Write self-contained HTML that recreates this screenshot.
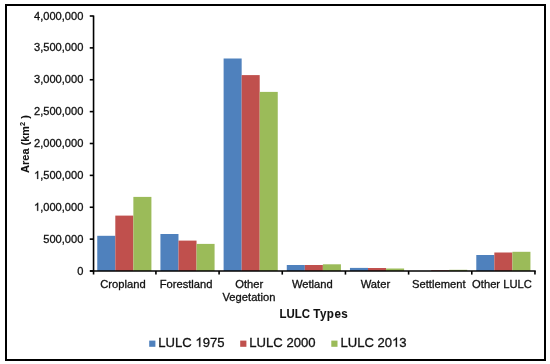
<!DOCTYPE html>
<html><head><meta charset="utf-8"><style>
html,body{margin:0;padding:0;background:#fff;}
svg{display:block;will-change:transform;}
text{font-family:"Liberation Sans", sans-serif;fill:#111;stroke:#111;stroke-width:0.3px;}
text[font-weight]{stroke-width:0.08px;}
.g1{fill:#111;stroke:#111;stroke-width:0.3px;vector-effect:non-scaling-stroke;}
</style></head><body>
<svg width="550" height="364" viewBox="0 0 550 364">
<rect x="6" y="5" width="539" height="355" fill="#fff" stroke="#000" stroke-width="2"/>
<rect x="97.26" y="235.80" width="18.05" height="35.20" fill="#4F81BD"/>
<rect x="115.31" y="215.60" width="18.05" height="55.40" fill="#C0504D"/>
<rect x="133.36" y="196.90" width="18.05" height="74.10" fill="#9BBB59"/>
<rect x="160.43" y="234.00" width="18.05" height="37.00" fill="#4F81BD"/>
<rect x="178.48" y="240.60" width="18.05" height="30.40" fill="#C0504D"/>
<rect x="196.53" y="243.90" width="18.05" height="27.10" fill="#9BBB59"/>
<rect x="223.61" y="58.50" width="18.05" height="212.50" fill="#4F81BD"/>
<rect x="241.65" y="75.10" width="18.05" height="195.90" fill="#C0504D"/>
<rect x="259.70" y="91.90" width="18.05" height="179.10" fill="#9BBB59"/>
<rect x="286.78" y="265.00" width="18.05" height="6.00" fill="#4F81BD"/>
<rect x="304.83" y="265.00" width="18.05" height="6.00" fill="#C0504D"/>
<rect x="322.87" y="264.30" width="18.05" height="6.70" fill="#9BBB59"/>
<rect x="349.95" y="267.90" width="18.05" height="3.10" fill="#4F81BD"/>
<rect x="368.00" y="268.00" width="18.05" height="3.00" fill="#C0504D"/>
<rect x="386.05" y="268.50" width="18.05" height="2.50" fill="#9BBB59"/>
<rect x="413.12" y="271.00" width="18.05" height="0.00" fill="#4F81BD"/>
<rect x="431.17" y="270.30" width="18.05" height="0.70" fill="#C0504D"/>
<rect x="449.22" y="269.80" width="18.05" height="1.20" fill="#9BBB59"/>
<rect x="476.29" y="255.00" width="18.05" height="16.00" fill="#4F81BD"/>
<rect x="494.34" y="252.50" width="18.05" height="18.50" fill="#C0504D"/>
<rect x="512.39" y="251.80" width="18.05" height="19.20" fill="#9BBB59"/>
<line x1="93.55" y1="15.4" x2="93.55" y2="274.6" stroke="#000" stroke-width="1.6"/>
<line x1="89.95" y1="271.0" x2="535.75" y2="271.0" stroke="#000" stroke-width="1.6"/>
<line x1="89.75" y1="271.00" x2="93.55" y2="271.00" stroke="#000" stroke-width="1.6"/>
<text transform="translate(77.23,274.50) scale(1,1.041)" font-size="11.1">0</text>
<line x1="89.75" y1="239.12" x2="93.55" y2="239.12" stroke="#000" stroke-width="1.6"/>
<text transform="translate(43.28,242.62) scale(1,1.041)" font-size="11.1">500,000</text>
<line x1="89.75" y1="207.25" x2="93.55" y2="207.25" stroke="#000" stroke-width="1.6"/>
<text transform="translate(34.02,210.75) scale(1,1.041)" font-size="11.1"> ,000,000</text>
<path class="g1" d="M763 0L583 0L583 1147Q518 1085 412.5 1023Q307 961 223 930L223 1104Q374 1175 486.5 1276Q599 1377 647 1472L763 1472Z" transform="translate(34.02,210.75) scale(0.00542,-0.00540)"/>
<line x1="89.75" y1="175.38" x2="93.55" y2="175.38" stroke="#000" stroke-width="1.6"/>
<text transform="translate(34.02,178.88) scale(1,1.041)" font-size="11.1"> ,500,000</text>
<path class="g1" d="M763 0L583 0L583 1147Q518 1085 412.5 1023Q307 961 223 930L223 1104Q374 1175 486.5 1276Q599 1377 647 1472L763 1472Z" transform="translate(34.02,178.88) scale(0.00542,-0.00540)"/>
<line x1="89.75" y1="143.50" x2="93.55" y2="143.50" stroke="#000" stroke-width="1.6"/>
<text transform="translate(34.02,147.00) scale(1,1.041)" font-size="11.1">2,000,000</text>
<line x1="89.75" y1="111.62" x2="93.55" y2="111.62" stroke="#000" stroke-width="1.6"/>
<text transform="translate(34.02,115.12) scale(1,1.041)" font-size="11.1">2,500,000</text>
<line x1="89.75" y1="79.75" x2="93.55" y2="79.75" stroke="#000" stroke-width="1.6"/>
<text transform="translate(34.02,83.25) scale(1,1.041)" font-size="11.1">3,000,000</text>
<line x1="89.75" y1="47.88" x2="93.55" y2="47.88" stroke="#000" stroke-width="1.6"/>
<text transform="translate(34.02,51.38) scale(1,1.041)" font-size="11.1">3,500,000</text>
<line x1="89.75" y1="16.00" x2="93.55" y2="16.00" stroke="#000" stroke-width="1.6"/>
<text transform="translate(34.02,19.50) scale(1,1.041)" font-size="11.1">4,000,000</text>
<line x1="155.92" y1="271.0" x2="155.92" y2="274.6" stroke="#000" stroke-width="1.6"/>
<line x1="219.09" y1="271.0" x2="219.09" y2="274.6" stroke="#000" stroke-width="1.6"/>
<line x1="282.26" y1="271.0" x2="282.26" y2="274.6" stroke="#000" stroke-width="1.6"/>
<line x1="345.44" y1="271.0" x2="345.44" y2="274.6" stroke="#000" stroke-width="1.6"/>
<line x1="408.61" y1="271.0" x2="408.61" y2="274.6" stroke="#000" stroke-width="1.6"/>
<line x1="471.78" y1="271.0" x2="471.78" y2="274.6" stroke="#000" stroke-width="1.6"/>
<line x1="534.95" y1="271.0" x2="534.95" y2="274.6" stroke="#000" stroke-width="1.6"/>
<text transform="translate(100.21,287.90) scale(1,1.041)" font-size="11.2">Cropland</text>
<text transform="translate(159.65,287.90) scale(1,1.041)" font-size="11.2">Forestland</text>
<text transform="translate(235.27,287.90) scale(1,1.041)" font-size="11.2">Other</text>
<text transform="translate(222.50,300.80) scale(1,1.041)" font-size="11.2">Vegetation</text>
<text transform="translate(291.91,287.90) scale(1,1.041)" font-size="11.2">Wetland</text>
<text transform="translate(360.69,287.90) scale(1,1.041)" font-size="11.2">Water</text>
<text transform="translate(412.02,287.90) scale(1,1.041)" font-size="11.2">Settlement</text>
<text transform="translate(472.09,287.90) scale(1,1.041)" font-size="11.2">Other LULC</text>
<text transform="translate(279.6,318.2) scale(1,1.041)" font-size="11.4" font-weight="bold">LULC</text>
<text transform="translate(313.3,318.2) scale(1,1.041)" font-size="11.6" font-weight="bold" letter-spacing="0.45">Types</text>
<text transform="translate(29.3,144) rotate(-90) scale(1,1.041)" text-anchor="middle" font-size="11" font-weight="bold">Area (km<tspan font-size="7.3" dy="-4">2</tspan><tspan dy="4"> )</tspan></text>
<rect x="149.2" y="340.6" width="6.2" height="6.2" fill="#4F81BD"/>
<text transform="translate(158.30,346.80) scale(1,1.041)" font-size="13.1">LULC  975</text>
<path class="g1" d="M763 0L583 0L583 1147Q518 1085 412.5 1023Q307 961 223 930L223 1104Q374 1175 486.5 1276Q599 1377 647 1472L763 1472Z" transform="translate(195.43,346.80) scale(0.00640,-0.00637)"/>
<rect x="240.2" y="340.6" width="6.2" height="6.2" fill="#C0504D"/>
<text transform="translate(249.30,346.80) scale(1,1.041)" font-size="13.1">LULC 2000</text>
<rect x="331.3" y="340.6" width="6.2" height="6.2" fill="#9BBB59"/>
<text transform="translate(340.40,346.80) scale(1,1.041)" font-size="13.1">LULC 20 3</text>
<path class="g1" d="M763 0L583 0L583 1147Q518 1085 412.5 1023Q307 961 223 930L223 1104Q374 1175 486.5 1276Q599 1377 647 1472L763 1472Z" transform="translate(392.10,346.80) scale(0.00640,-0.00637)"/>
</svg>
</body></html>
